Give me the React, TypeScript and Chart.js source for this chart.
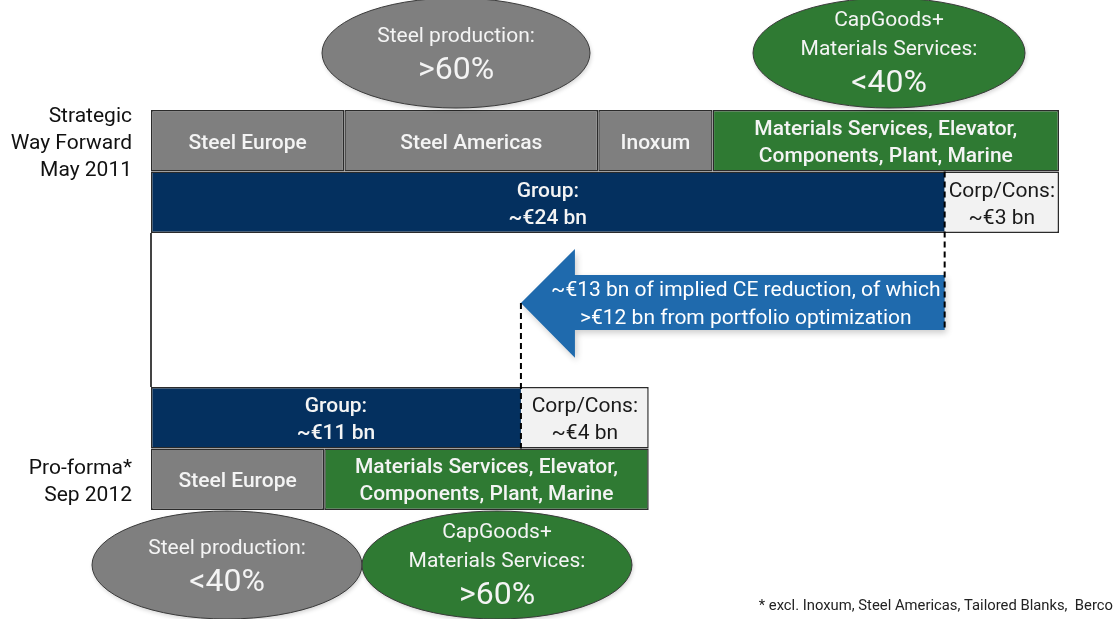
import React, { useEffect, useRef } from 'react';
import { Chart, registerables } from 'chart.js';

Chart.register(...registerables);

const FONT = 'Roboto';

// y categories (half-row slots); labelled rows carry the period names
const rowLabels: (string | string[])[] = [
  '', ['Strategic', 'Way Forward', 'May 2011'], '', '', '', '', '', '', '', '', '', '', ['Pro-forma*', 'Sep 2012'], '',
];

const N = null;
// Capital employed (EUR bn)
const steelEuropeValues = [N, 5.75, N, N, N, N, N, N, N, N, N, N, 5.15, N];
const steelAmericasValues = [N, 7.55, N, N, N, N, N, N, N, N, N, N, N, N];
const inoxumValues = [N, 3.4, N, N, N, N, N, N, N, N, N, N, N, N];
const capGoodsValues = [N, 10.3, N, N, N, N, N, N, N, N, N, N, 9.65, N];
const groupValues = [N, N, N, 23.6, N, N, N, N, N, N, 11.0, N, N, N];
const corpConsValues = [N, N, N, 3.4, N, N, N, N, N, N, 3.8, N, N, N];

const steelEuropeTexts = [N, ['Steel Europe'], N, N, N, N, N, N, N, N, N, N, ['Steel Europe'], N];
const steelAmericasTexts = [N, ['Steel Americas'], N, N, N, N, N, N, N, N, N, N, N, N];
const inoxumTexts = [N, ['Inoxum'], N, N, N, N, N, N, N, N, N, N, N, N];
const capGoodsTexts = [N, ['Materials Services, Elevator,', 'Components, Plant, Marine'], N, N, N, N, N, N, N, N, N, N, ['Materials Services, Elevator,', 'Components, Plant, Marine'], N];
const groupTexts = [N, N, N, ['Group:', '~€24 bn'], N, N, N, N, N, N, ['Group:', '~€11 bn'], N, N, N];
const corpConsTexts = [N, N, N, ['Corp/Cons:', '~€3 bn'], N, N, N, N, N, N, ['Corp/Cons:', '~€4 bn'], N, N, N];

const topSteelShare = ['Steel production:', '>60%'];
const topCapShare = ['CapGoods+', 'Materials Services:', '<40%'];
const bottomSteelShare = ['Steel production:', '<40%'];
const bottomCapShare = ['CapGoods+', 'Materials Services:', '>60%'];
const reductionText = ['~€13 bn of implied CE reduction, of which', '>€12 bn from portfolio optimization'];
const footnote = '* excl. Inoxum, Steel Americas, Tailored Blanks,  Berco';

const GRAY = '#7f7f7f';
const GREEN = '#2f7a33';
const NAVY = '#04305f';
const LIGHT = '#f2f2f2';
const EDGE = '#2b2b2b';
const ARROW = '#1f6aad';

function drawEllipse(ctx: CanvasRenderingContext2D, cx: number, cy: number, rx: number, ry: number, fill: string, lines: string[]) {
  ctx.save();
  ctx.beginPath();
  ctx.ellipse(cx, cy, rx, ry, 0, 0, Math.PI * 2);
  ctx.fillStyle = fill;
  ctx.shadowColor = 'rgba(0,0,0,0.18)';
  ctx.shadowBlur = 4;
  ctx.shadowOffsetX = 1;
  ctx.shadowOffsetY = 2;
  ctx.fill();
  ctx.shadowColor = 'transparent';
  ctx.lineWidth = 1;
  ctx.strokeStyle = '#3a3a3a';
  ctx.stroke();
  ctx.fillStyle = '#f4f4f4';
  ctx.textAlign = 'center';
  ctx.textBaseline = 'middle';
  const small = lines.length - 1;
  const span = (small - 1) * 29 + 34;
  let y = cy - span / 2 - (small > 1 ? 1 : -1);
  lines.forEach((t, i) => {
    if (i === lines.length - 1) {
      ctx.font = `400 32px ${FONT}`;
    } else {
      ctx.font = `400 21px ${FONT}`;
    }
    ctx.fillText(t, cx, y);
    y += i === lines.length - 2 ? 34 : 29;
  });
  ctx.restore();
}

const overlayPlugin = {
  id: 'overlay',
  afterDatasetsDraw(chart: any) {
    const ctx: CanvasRenderingContext2D = chart.ctx;
    const ca = chart.chartArea;
    const xs = chart.scales.x;
    const ys = chart.scales.y;

    // segment texts
    chart.data.datasets.forEach((ds: any, di: number) => {
      const meta = chart.getDatasetMeta(di);
      meta.data.forEach((el: any, i: number) => {
        const lines = ds.texts[i];
        if (!lines || ds.data[i] == null) return;
        const p = el.getProps(['x', 'y', 'base'], true);
        const cx = (p.x + p.base) / 2;
        ctx.save();
        ctx.fillStyle = ds.textColor;
        ctx.font = `${ds.textWeight} 21px ${FONT}`;
        ctx.textAlign = 'center';
        ctx.textBaseline = 'middle';
        const start = p.y + 2.5 - ((lines.length - 1) * 27) / 2;
        lines.forEach((t: string, k: number) => ctx.fillText(t, cx, start + k * 27));
        ctx.restore();
      });
    });

    // gap frame line
    const gapTop = ys.getPixelForValue(4);
    const gapBottom = ys.getPixelForValue(9);
    const gapH = gapBottom - gapTop;
    ctx.save();
    ctx.strokeStyle = '#444';
    ctx.lineWidth = 2;
    ctx.beginPath();
    ctx.moveTo(ca.left, gapTop);
    ctx.lineTo(ca.left, gapBottom);
    ctx.stroke();
    ctx.restore();

    // arrow from old Group end to new Group end
    const xEnd = xs.getPixelForValue(groupValues[3] as number);
    const xTip = xs.getPixelForValue(groupValues[10] as number);
    const xHead = xTip + 54;
    const yC = gapTop + gapH * 0.455;
    const bTop = gapTop + gapH * 0.273;
    const bBot = gapTop + gapH * 0.63;
    const hTop = gapTop + gapH * 0.104;
    const hBot = gapTop + gapH * 0.81;
    ctx.save();
    ctx.beginPath();
    ctx.moveTo(xTip, yC);
    ctx.lineTo(xHead, hTop);
    ctx.lineTo(xHead, bTop);
    ctx.lineTo(xEnd, bTop);
    ctx.lineTo(xEnd, bBot);
    ctx.lineTo(xHead, bBot);
    ctx.lineTo(xHead, hBot);
    ctx.closePath();
    ctx.shadowColor = 'rgba(0,0,0,0.2)';
    ctx.shadowBlur = 6;
    ctx.shadowOffsetX = 2;
    ctx.shadowOffsetY = 3;
    ctx.fillStyle = ARROW;
    ctx.fill();
    ctx.restore();

    ctx.save();
    ctx.fillStyle = '#ffffff';
    ctx.font = `400 21px ${FONT}`;
    ctx.textAlign = 'center';
    ctx.textBaseline = 'middle';
    const tx = (xTip + xEnd) / 2 + 13;
    ctx.fillText(reductionText[0], tx, yC - 12);
    ctx.fillText(reductionText[1], tx, yC + 16);
    ctx.restore();

    // dashed connectors at the Corp/Cons edges
    const corpMeta = chart.getDatasetMeta(5);
    const e1 = corpMeta.data[3].getProps(['y', 'base', 'height'], true);
    const e2 = corpMeta.data[10].getProps(['y', 'base', 'height'], true);
    ctx.save();
    ctx.strokeStyle = '#000';
    ctx.lineWidth = 2;
    ctx.setLineDash([6, 4]);
    ctx.beginPath();
    ctx.moveTo(e1.base, e1.y - e1.height / 2);
    ctx.lineTo(e1.base, bBot);
    ctx.moveTo(e2.base, yC);
    ctx.lineTo(e2.base, e2.y + e2.height / 2);
    ctx.stroke();
    ctx.restore();
  },
  afterDraw(chart: any) {
    const ctx: CanvasRenderingContext2D = chart.ctx;
    const ca = chart.chartArea;
    drawEllipse(ctx, 456, ca.top - 57, 134, 55, GRAY, topSteelShare);
    drawEllipse(ctx, 889, ca.top - 57, 136, 55, GREEN, topCapShare);
    drawEllipse(ctx, 227, ca.bottom + 55, 135, 54, GRAY, bottomSteelShare);
    drawEllipse(ctx, 497, ca.bottom + 55, 135, 54, GREEN, bottomCapShare);

    ctx.save();
    ctx.fillStyle = '#222';
    ctx.font = `400 14.8px ${FONT}`;
    ctx.textAlign = 'right';
    ctx.textBaseline = 'middle';
    ctx.fillText(footnote, 1113, 606);
    ctx.restore();
  },
};

export default function App() {
  const ref = useRef<HTMLCanvasElement>(null);
  useEffect(() => {
    const solid = 1.5;
    const mk = (label: string, data: any[], texts: any[], bg: string, textColor: string, border: any, textWeight = 500) => ({
      label,
      data,
      texts,
      textColor,
      textWeight,
      backgroundColor: bg,
      borderColor: EDGE,
      borderWidth: border,
      borderSkipped: false,
      barPercentage: 2,
      categoryPercentage: 1,
      inflateAmount: 0,
    });
    const chart = new Chart(ref.current as HTMLCanvasElement, {
      type: 'bar',
      data: {
        labels: rowLabels as any,
        datasets: [
          mk('Steel Europe', steelEuropeValues, steelEuropeTexts, GRAY, '#f4f4f4', solid),
          mk('Steel Americas', steelAmericasValues, steelAmericasTexts, GRAY, '#f4f4f4', solid),
          mk('Inoxum', inoxumValues, inoxumTexts, GRAY, '#f4f4f4', solid),
          mk('CapGoods + Materials Services', capGoodsValues, capGoodsTexts, GREEN, '#f4f4f4', solid),
          mk('Group', groupValues, groupTexts, NAVY, '#f4f4f4', { top: solid, left: solid, bottom: solid, right: 0 }),
          mk('Corp/Cons', corpConsValues, corpConsTexts, LIGHT, '#1a1a1a', { top: solid, right: solid, bottom: solid, left: 0 }, 400),
        ] as any,
      },
      options: {
        indexAxis: 'y',
        responsive: false,
        animation: false,
        layout: { padding: { left: 0, right: 59, top: 110, bottom: 109 } },
        plugins: { legend: { display: false }, tooltip: { enabled: false }, title: { display: false } },
        scales: {
          x: { type: 'linear', min: 0, max: 27, display: false, stacked: true },
          y: {
            type: 'category',
            offset: false,
            stacked: true,
            grid: { display: false, drawTicks: false },
            border: { display: false },
            ticks: {
              autoSkip: false,
              padding: 19,
              labelOffset: 3,
              color: '#111',
              font: { family: FONT, size: 21, weight: 400, lineHeight: 1.27 },
            },
            afterFit: (scale: any) => {
              scale.width = 151;
            },
          },
        },
      } as any,
      plugins: [overlayPlugin],
    });
    return () => chart.destroy();
  }, []);
  return (
    <div style={{ position: 'absolute', left: 0, top: 0, width: 1118, height: 619, background: '#fff' }}>
      <canvas ref={ref} width={1118} height={619} style={{ display: 'block' }} />
    </div>
  );
}
